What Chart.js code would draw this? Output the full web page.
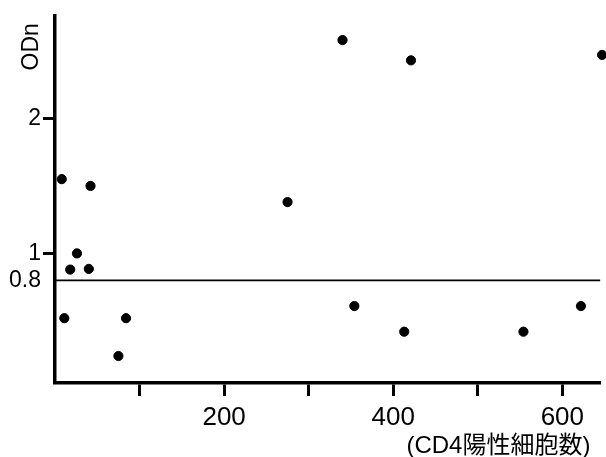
<!DOCTYPE html>
<html>
<head>
<meta charset="utf-8">
<script src="https://cdn.jsdelivr.net/npm/chart.js@4.4.1/dist/chart.umd.min.js"></script>
<style>
  html, body { margin: 0; padding: 0; background: #fff; }
  #wrap { width: 606px; height: 457px; position: relative; }
</style>
</head>
<body>
<div id="wrap"><canvas id="chart"></canvas></div>
<script>
// CD4 positive cell count vs ODn
const cd4Counts = [8, 42, 26, 18, 40, 11, 84, 75, 275, 340, 421, 647, 354, 413, 554, 622];
const odnValues = [1.55, 1.50, 1.00, 0.88, 0.885, 0.52, 0.52, 0.24, 1.38, 2.58, 2.43, 2.47, 0.61, 0.42, 0.42, 0.61];

const cutoffX = [0, 645];
const cutoffY = [0.8, 0.8];

const xTicks = [100, 200, 300, 400, 500, 600];
const xLabelled = [200, 400, 600];
const yTicks = [0.8, 1, 2];

const yTitle = 'ODn';
const xTitle = '(CD4陽性細胞数)';

const FONT = "'Liberation Sans', Arial, 'Noto Sans CJK JP', sans-serif";

const titlesPlugin = {
    id: 'titles',
    afterDraw(chart) {
        const ctx = chart.ctx;
        const area = chart.chartArea;
        ctx.save();
        ctx.fillStyle = '#000';
        ctx.font = `23px ${FONT}`;
        ctx.textAlign = 'center';
        ctx.textBaseline = 'middle';
        ctx.translate(area.left - 23, area.top + 31);
        ctx.rotate(-Math.PI / 2);
        ctx.fillText(yTitle, 0, 0);
        ctx.restore();

        ctx.save();
        ctx.fillStyle = '#000';
        ctx.font = `24px ${FONT}`;
        ctx.textAlign = 'right';
        ctx.textBaseline = 'middle';
        ctx.fillText(xTitle, area.right - 10, area.bottom + 63);
        ctx.restore();
    }
};

new Chart(document.getElementById('chart'), {
    type: 'scatter',
    data: {
        datasets: [
            {
                data: cd4Counts.map((x, i) => ({ x, y: odnValues[i] })),
                backgroundColor: '#000', borderColor: '#000',
                pointRadius: 4.6, pointHoverRadius: 4.6, clip: false
            },
            {
                data: cutoffX.map((x, i) => ({ x, y: cutoffY[i] })),
                showLine: true, borderColor: '#000', borderWidth: 1.8,
                pointRadius: 0, fill: false
            }
        ]
    },
    plugins: [titlesPlugin],
    options: {
        responsive: true, maintainAspectRatio: false, animation: false,
        layout: { padding: { top: 13, right: 0, left: 0, bottom: 0 } },
        plugins: { legend: { display: false }, tooltip: { enabled: false } },
        scales: {
            x: {
                type: 'linear', min: 0, max: 645,
                afterBuildTicks: s => { s.ticks = xTicks.map(v => ({ value: v })); },
                afterFit: s => { s.height = 74; },
                border: { display: true, color: '#000', width: 3.5 },
                grid: { drawOnChartArea: false, drawTicks: true, tickLength: 13, tickWidth: 3, tickColor: '#000' },
                ticks: {
                    color: '#000', padding: 6, maxRotation: 0, autoSkip: false,
                    font: { family: FONT, size: 26 },
                    callback: v => xLabelled.includes(v) ? String(v) : ''
                }
            },
            y: {
                type: 'linear', min: 0.04, max: 2.76,
                afterBuildTicks: s => { s.ticks = yTicks.map(v => ({ value: v })); },
                afterFit: s => { s.width = 55; },
                border: { display: true, color: '#000', width: 3.5 },
                grid: {
                    drawOnChartArea: false, drawTicks: true, tickLength: 12, tickWidth: 3,
                    tickColor: c => (c.tick && c.tick.value === 0.8) ? 'rgba(0,0,0,0)' : '#000'
                },
                ticks: {
                    color: '#000', padding: 2, autoSkip: false,
                    font: { family: FONT, size: 23 },
                    callback: v => String(v)
                }
            }
        }
    }
});
</script>
</body>
</html>
